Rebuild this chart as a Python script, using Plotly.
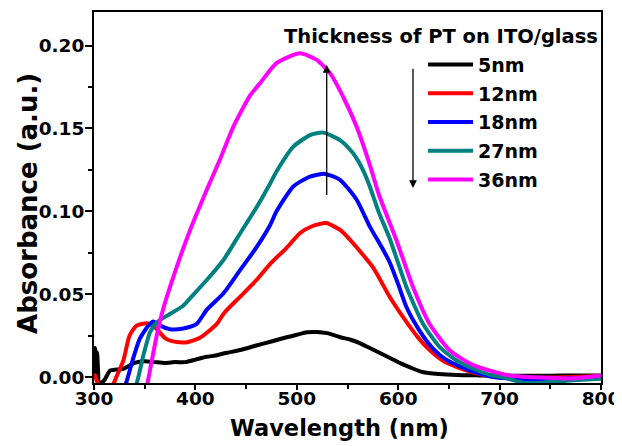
import plotly.graph_objects as go

# ---------------- data ----------------
wl_5 = [300, 301, 302, 303, 304, 305, 310, 316, 322, 329, 335, 340, 350, 360, 370, 380, 390, 400,
        411, 420, 430, 444, 460, 474, 490, 500, 510, 520, 530, 543, 553, 562, 572, 582, 592, 602,
        613, 624, 640, 658, 680, 700, 720, 740, 760, 780, 800]
abs_5 = [0.0, 0.0175, 0.010, 0.015, 0.004, -0.004, -0.002, 0.004, 0.0045, 0.005, 0.007, 0.0085,
         0.0095, 0.009, 0.0085, 0.009, 0.009, 0.0105, 0.0122, 0.013, 0.0145, 0.0163, 0.019, 0.0213,
         0.024, 0.0255, 0.027, 0.0272, 0.0265, 0.024, 0.0225, 0.0205, 0.0175, 0.0145, 0.0115, 0.0084,
         0.0055, 0.003, 0.0018, 0.0012, 0.0010, 0.0009, 0.0008, 0.0008, 0.0009, 0.0010, 0.0010]

wl_12 = [300, 302, 305, 318, 322, 329, 335, 342, 352, 358, 364, 370, 378, 391, 404, 421, 428, 444,
         460, 474, 490, 503, 515, 529, 543, 553, 559, 575, 592, 609, 620, 631, 645, 658, 675, 691,
         710, 740, 770, 800]
abs_12 = [0.002, -0.001, -0.005, -0.005, 0.0, 0.010, 0.0249, 0.031, 0.0325, 0.031, 0.0275, 0.0235,
          0.0215, 0.0209, 0.0235, 0.0319, 0.0384, 0.0484, 0.0584, 0.0685, 0.078, 0.0868, 0.091,
          0.0929, 0.0886, 0.0825, 0.0783, 0.0663, 0.048, 0.0325, 0.0235, 0.0163, 0.0095, 0.006,
          0.0025, 0.0005, -0.0003, -0.0006, 0.0, 0.0006]

wl_18 = [330, 332, 338.7, 345, 353.6, 358.5, 365, 375, 388, 401, 411, 427.5, 444, 460.5, 473.6,
         480, 496.6, 513, 527.8, 542.6, 559, 572, 585, 592, 600, 608, 616, 625, 633, 641, 650, 658,
         674, 690, 707, 730, 760, 800]
abs_18 = [-0.006, -0.003, 0.0114, 0.0229, 0.031, 0.0335, 0.031, 0.0289, 0.0293, 0.0319, 0.0404,
          0.0504, 0.0645, 0.0785, 0.0916, 0.100, 0.115, 0.121, 0.1226, 0.119, 0.107, 0.0908, 0.077,
          0.0687, 0.056, 0.0424, 0.033, 0.0243, 0.018, 0.0133, 0.0095, 0.0072, 0.0032, 0.0005,
          -0.0008, -0.0015, -0.001, 0.0]

wl_27 = [340, 342, 348.6, 355.2, 361.8, 371.7, 388, 394.7, 411, 427.5, 444, 460.5, 473.6, 480,
         496.6, 513, 526, 542.6, 552, 559, 566, 572, 580.5, 592, 608, 624.6, 641, 657.6, 674, 690,
         707, 723, 740, 772, 800]
abs_27 = [-0.006, -0.004, 0.0128, 0.0269, 0.0329, 0.0369, 0.043, 0.0475, 0.0584, 0.0705, 0.0866,
          0.1026, 0.1167, 0.124, 0.139, 0.146, 0.1475, 0.143, 0.1376, 0.132, 0.124, 0.115, 0.100,
          0.083, 0.0545, 0.032, 0.018, 0.010, 0.005, 0.0015, -0.0008, -0.0035, -0.0035, -0.002,
          -0.001]

wl_36 = [350, 352.6, 361.8, 368.4, 381.6, 394.7, 411, 424, 437.4, 454, 463.7, 480, 503, 519.6,
         532.7, 545.8, 559, 572, 581, 598, 614.5, 631, 651, 674, 707, 723, 750, 772, 800]
abs_36 = [-0.010, -0.004, 0.0249, 0.0415, 0.0665, 0.0886, 0.1127, 0.131, 0.151, 0.170, 0.1773,
          0.1894, 0.1954, 0.1914, 0.1834, 0.169, 0.151, 0.128, 0.110, 0.083, 0.0545, 0.032, 0.016,
          0.0072, 0.0012, 0.0002, -0.0005, -0.0008, 0.001]

series_names = ["5nm", "12nm", "18nm", "27nm", "36nm"]
series_x = [wl_5, wl_12, wl_18, wl_27, wl_36]
series_y = [abs_5, abs_12, abs_18, abs_27, abs_36]
series_colors = ["#000000", "#FF0000", "#0000FF", "#008080", "#FF00FF"]

legend_title = "Thickness of PT on ITO/glass"
x_title = "Wavelength (nm)"
y_title = "Absorbance (a.u.)"

FONT = "DejaVu Sans"

fig = go.Figure()
for name, xs, ys, c in zip(series_names, series_x, series_y, series_colors):
    fig.add_trace(go.Scatter(
        x=xs, y=ys, mode="lines", name=name, legendgroup=name,
        line=dict(color=c, width=4, shape="spline", smoothing=0.6),
    ))

# the page body adds an 8px offset, so the figure is 8px smaller on each axis
fig.update_layout(
    width=614, height=438,
    margin=dict(l=86, r=21, t=4, b=63),
    paper_bgcolor="white", plot_bgcolor="white",
    font=dict(family=FONT, color="black"),
    showlegend=True,
    legend=dict(
        x=0.649, y=0.909, xanchor="left", yanchor="top",
        bgcolor="rgba(0,0,0,0)", borderwidth=0,
        font=dict(family=FONT, size=19, color="black", weight="bold"),
        tracegroupgap=1, itemwidth=45,
    ),
)

fig.update_xaxes(
    range=[300, 800], showline=True, linecolor="black", linewidth=2, mirror=True,
    showgrid=False, zeroline=False, automargin=False,
    tickmode="linear", tick0=300, dtick=100,
    ticks="outside", ticklen=5, tickwidth=1.5, tickcolor="black", ticklabelstandoff=-7,
    minor=dict(ticks="outside", dtick=50, ticklen=4, tickwidth=1.5, tickcolor="black"),
    tickfont=dict(family=FONT, size=18.5, color="black", weight="bold"),
)
fig.update_yaxes(
    range=[-0.0036, 0.2203], showline=True, linecolor="black", linewidth=2, mirror=True,
    showgrid=False, zeroline=False, automargin=False,
    tickmode="linear", tick0=0, dtick=0.05, tickformat=".2f",
    ticks="outside", ticklen=7, tickwidth=1.5, tickcolor="black", ticklabelstandoff=-3,
    minor=dict(ticks="outside", dtick=0.025, ticklen=4, tickwidth=1.5, tickcolor="black"),
    tickfont=dict(family=FONT, size=18.5, color="black", weight="bold"),
)

# axis titles
fig.add_annotation(
    x=0.485, y=0, xref="paper", yref="paper", yshift=-45, text=x_title, showarrow=False,
    font=dict(family=FONT, size=22.5, color="black", weight="bold"),
    xanchor="center", yanchor="middle",
)
fig.add_annotation(
    x=0, y=0.4825, xref="paper", yref="paper", xshift=-66, text=y_title, showarrow=False,
    textangle=-90, font=dict(family=FONT, size=26, color="black", weight="bold"),
    xanchor="center", yanchor="middle",
)

# legend heading and arrows
fig.add_annotation(
    x=0.685, y=0.935, xref="paper", yref="paper", text=legend_title, showarrow=False,
    font=dict(family=FONT, size=19.5, color="black", weight="bold"), xanchor="center", yanchor="middle",
)
fig.add_annotation(
    x=529.5, y=0.1884, ax=529.5, ay=0.1089, xref="x", yref="y", axref="x", ayref="y",
    text="", showarrow=True, arrowhead=2, arrowsize=1.2, arrowwidth=1.3, arrowcolor="black",
)
fig.add_annotation(
    x=614.6, y=0.1141, ax=614.6, ay=0.187, xref="x", yref="y", axref="x", ayref="y",
    text="", showarrow=True, arrowhead=2, arrowsize=1.2, arrowwidth=1.3, arrowcolor="black",
)

fig.write_html("out.html")
